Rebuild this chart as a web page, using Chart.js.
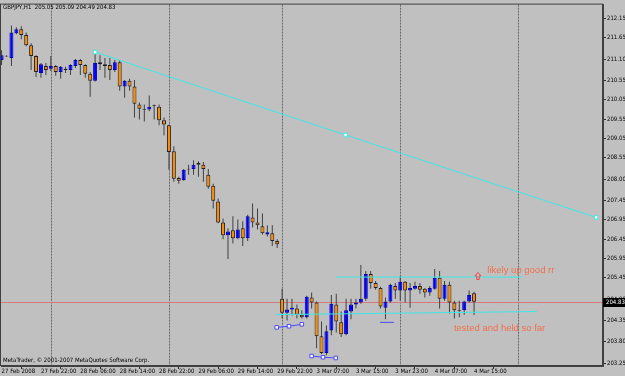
<!DOCTYPE html>
<html><head><meta charset="utf-8">
<script src="https://cdn.jsdelivr.net/npm/chart.js@4/dist/chart.umd.min.js"></script>
<style>html,body{margin:0;padding:0;background:#c0c0c0;}canvas{display:block;}</style>
</head><body>
<canvas id="c" width="625" height="376"></canvas>
<script>
// ---------- data ----------
const symbolTitle = 'GBPJPY,H1  205.05 205.09 204.49 204.83';
const copyright = 'MetaTrader, \u00A9 2001-2007 MetaQuotes Software Corp.';
const barTimes = [
 '27 Feb 14:00','27 Feb 15:00','27 Feb 16:00','27 Feb 17:00','27 Feb 18:00','27 Feb 19:00','27 Feb 20:00','27 Feb 21:00','27 Feb 22:00','27 Feb 23:00',
 '28 Feb 00:00','28 Feb 01:00','28 Feb 02:00','28 Feb 03:00','28 Feb 04:00','28 Feb 05:00','28 Feb 06:00','28 Feb 07:00','28 Feb 08:00','28 Feb 09:00',
 '28 Feb 10:00','28 Feb 11:00','28 Feb 12:00','28 Feb 13:00','28 Feb 14:00','28 Feb 15:00','28 Feb 16:00','28 Feb 17:00','28 Feb 18:00','28 Feb 19:00',
 '28 Feb 20:00','28 Feb 21:00','28 Feb 22:00','28 Feb 23:00',
 '29 Feb 00:00','29 Feb 01:00','29 Feb 02:00','29 Feb 03:00','29 Feb 04:00','29 Feb 05:00','29 Feb 06:00','29 Feb 07:00','29 Feb 08:00','29 Feb 09:00',
 '29 Feb 10:00','29 Feb 11:00','29 Feb 12:00','29 Feb 13:00','29 Feb 14:00','29 Feb 15:00','29 Feb 16:00','29 Feb 17:00','29 Feb 18:00','29 Feb 19:00',
 '29 Feb 20:00','29 Feb 21:00','29 Feb 22:00',
 '3 Mar 00:00','3 Mar 01:00','3 Mar 02:00','3 Mar 03:00','3 Mar 04:00','3 Mar 05:00','3 Mar 06:00','3 Mar 07:00','3 Mar 08:00','3 Mar 09:00',
 '3 Mar 10:00','3 Mar 11:00','3 Mar 12:00','3 Mar 13:00','3 Mar 14:00','3 Mar 15:00','3 Mar 16:00','3 Mar 17:00','3 Mar 18:00','3 Mar 19:00',
 '3 Mar 20:00','3 Mar 21:00','3 Mar 22:00','3 Mar 23:00',
 '4 Mar 00:00','4 Mar 01:00','4 Mar 02:00','4 Mar 03:00','4 Mar 04:00','4 Mar 05:00','4 Mar 06:00','4 Mar 07:00','4 Mar 08:00','4 Mar 09:00',
 '4 Mar 10:00','4 Mar 11:00','4 Mar 12:00','4 Mar 13:00','4 Mar 14:00','4 Mar 15:00'
];
const open = [211.08,211.19,211.13,211.77,211.87,211.72,211.46,211.18,210.74,210.92,
 210.85,210.92,210.77,210.85,210.82,210.92,211.08,210.95,210.72,210.54,
 211.02,210.97,210.95,210.82,211.02,210.39,210.54,210.39,209.93,209.81,
 209.80,209.91,209.87,209.52,209.39,208.72,208.03,207.98,208.27,208.26,
 208.42,208.37,208.11,207.83,207.42,206.88,206.55,206.68,206.47,206.73,
 206.47,207.01,206.88,206.78,206.57,206.60,206.40,
 204.91,204.55,204.63,204.66,204.50,204.43,204.94,204.81,203.94,203.51,
 204.09,204.76,204.30,203.99,204.58,204.76,204.81,204.91,205.55,205.32,
 205.19,204.68,204.84,205.24,205.12,205.35,205.12,205.17,205.24,205.17,
 205.07,205.17,205.45,204.91,205.27,204.81,204.62,204.61,204.84,205.05];
const high = [211.33,211.20,211.97,211.92,211.95,211.79,211.51,211.20,211.00,211.00,
 211.18,210.95,210.92,210.90,210.97,211.10,211.10,210.97,210.77,211.28,
 211.20,211.13,211.13,211.08,211.08,210.56,210.59,210.56,209.98,209.93,
 210.16,209.93,209.93,209.59,209.41,208.85,208.06,208.26,208.37,208.49,
 208.46,208.44,208.26,207.88,207.50,206.98,206.73,207.04,206.96,206.91,
 207.08,207.37,207.24,207.11,206.81,206.81,206.45,
 205.17,204.91,204.91,204.76,204.61,204.99,205.07,204.84,204.32,204.22,
 205.01,205.04,204.58,204.91,204.91,204.91,205.78,205.63,205.63,205.37,
 205.22,204.94,205.30,205.32,205.50,205.37,205.32,205.35,205.32,205.19,
 205.24,205.68,205.63,205.37,205.35,204.86,204.86,204.86,205.12,205.09];
const low = [210.95,211.16,210.92,211.74,211.61,211.43,210.82,210.64,210.62,210.69,
 210.79,210.67,210.59,210.74,210.69,210.87,210.69,210.62,210.13,210.52,
 210.82,210.62,210.56,210.77,210.28,210.10,210.28,209.59,209.54,209.49,
 209.75,209.54,209.39,209.13,208.24,207.93,207.88,207.96,208.11,208.11,
 208.06,207.93,207.75,207.24,206.86,206.45,205.94,206.34,206.45,206.27,
 206.40,206.75,206.70,206.57,206.52,206.27,206.22,
 204.40,204.35,204.48,204.40,204.40,204.40,204.66,203.63,203.48,203.45,
 203.97,204.04,203.92,203.97,204.38,204.66,204.78,204.86,205.17,205.14,
 204.66,204.38,204.81,204.91,204.86,204.81,204.68,205.14,205.04,204.94,
 204.99,205.14,204.66,204.86,204.53,204.40,204.43,204.50,204.81,204.49];
const close = [211.20,211.17,211.79,211.87,211.72,211.46,211.18,210.77,210.97,210.82,
 210.92,210.77,210.90,210.82,210.95,211.08,210.95,210.72,210.54,211.00,
 210.97,210.92,210.82,211.02,210.39,210.54,210.39,209.95,209.82,209.79,
 209.87,209.89,209.52,209.41,208.70,208.01,207.96,208.24,208.25,208.37,
 208.37,208.26,207.80,207.44,206.88,206.55,206.65,206.47,206.70,206.47,
 207.04,206.88,206.81,206.60,206.63,206.40,206.32,
 204.55,204.63,204.68,204.50,204.43,204.96,204.81,203.94,203.51,204.07,
 204.78,204.32,203.99,204.61,204.76,204.81,204.91,205.55,205.32,205.19,
 204.71,204.84,205.27,205.12,205.35,205.12,205.19,205.24,205.14,205.07,
 205.19,205.45,204.91,205.27,204.81,204.61,204.60,204.84,205.01,204.83];

const xTickIndex = [0,8,16,24,32,40,48,56,64,72,80,88,96];
const xTickLabels = ['27 Feb 2008','27 Feb 22:00','28 Feb 06:00','28 Feb 14:00','28 Feb 22:00','29 Feb 06:00',
 '29 Feb 14:00','29 Feb 22:00','3 Mar 07:00','3 Mar 15:00','3 Mar 23:00','4 Mar 07:00','4 Mar 15:00'];
const yTickValues = [212.15,211.65,211.10,210.55,210.05,209.55,209.05,208.55,208.00,207.45,206.95,206.45,205.95,205.45,204.90,204.35,203.80,203.25];
const daySeparators = [10,34,57,81,105];

// drawn objects (bar index, price)
const trendX = [19,69.9,120.8];
const trendY = [211.28,209.14,207.01];
const resistX = [67.9,105.8];
const resistY = [205.47,205.47];
const supportX = [55.7,108.8];
const supportY = [204.50,204.58];
const lowLine1X = [55.9,58.4,61.0];
const lowLine1Y = [204.17,204.20,204.25];
const lowLine2X = [63.0,65.3,67.9];
const lowLine2Y = [203.43,203.40,203.38];
const hLineX = [76.9,79.7];
const hLineY = [204.30,204.30];
const noteText = ['likely up good rr','tested and held so far'];
const noteX = [98.7,91.9];
const noteY = [205.65,204.15];
const arrowX = 96.8, arrowY = 205.50;

// view range
const X_MIN = -0.12, X_MAX = 122.2;
const Y_MIN = 203.173, Y_MAX = 212.508;

// ---------- fonts ----------
function hasFont(name){
  const g=document.createElement('canvas').getContext('2d');
  const t='mmmmmmmmmmlli1WW 27 Feb 2008';
  g.font='20px monospace'; const a=g.measureText(t).width;
  g.font="20px '"+name+"', monospace"; const b=g.measureText(t).width;
  g.font='20px serif'; const c=g.measureText(t).width;
  g.font="20px '"+name+"', serif"; const d=g.measureText(t).width;
  return a!==b || c!==d;
}
let smallFamily = "'Liberation Sans', Arial, sans-serif", smallSize = 6;
if (hasFont('Liberation Sans Narrow')) { smallFamily = "'Liberation Sans Narrow', sans-serif"; smallSize = 7; }
else if (hasFont('DejaVu Sans Condensed')) { smallFamily = "'DejaVu Sans Condensed', sans-serif"; smallSize = 6; }
const SMALL_FONT = {family: smallFamily, size: smallSize};
const smallFontCss = smallSize + 'px ' + smallFamily;

// ---------- styles ----------
const BG = '#c0c0c0';
const UP = '#0000ff', DOWN = '#ff8c00';

const pts = (xs, ys) => xs.map((x,i)=>({x, y: ys[i]}));
const idx = open.map((_,i)=>i);

const bodies = {
  type:'bar', order:2, grouped:false,
  data: idx.map(i=>({x:i, y:[open[i], close[i]]})),
  backgroundColor: idx.map(i=> close[i]>=open[i] ? UP : DOWN),
  borderColor: idx.map(i=> close[i]>=open[i] ? '#0000b0' : '#202020'),
  borderWidth: 1, borderSkipped:false, barThickness:4, inflateAmount:0
};
const wicks = {
  type:'bar', order:3, grouped:false,
  data: idx.map(i=>({x:i, y:[low[i], high[i]]})),
  backgroundColor:'#404040', borderWidth:0, barThickness:1, inflateAmount:0
};
const lineDs = (xs, ys, color, radius) => ({
  type:'line', order:1, data: pts(xs, ys), borderColor: color, borderWidth:1,
  pointStyle:'rect', pointRadius: radius, pointBorderColor: color, pointBorderWidth:1,
  pointBackgroundColor:'#ffffff', fill:false, tension:0
});

const chromePlugin = {
  id:'chrome',
  beforeDraw(c){
    const g=c.ctx; g.save(); g.fillStyle=BG; g.fillRect(0,0,c.width,c.height); g.restore();
  },
  beforeDatasetsDraw(c){
    const g=c.ctx, a=c.chartArea, xs=c.scales.x, ys=c.scales.y;
    g.save();
    g.strokeStyle='#6a6a6a'; g.lineWidth=1; g.setLineDash([2,1]);
    daySeparators.forEach(d=>{
      const x=Math.round(xs.getPixelForValue(d))+0.5;
      g.beginPath(); g.moveTo(x,a.top); g.lineTo(x,a.bottom); g.stroke();
    });
    g.setLineDash([]);
    const yb=Math.round(ys.getPixelForValue(close[close.length-1]))+0.5;
    g.strokeStyle='#d47a7a';
    g.beginPath(); g.moveTo(a.left,yb); g.lineTo(a.right,yb); g.stroke();
    g.restore();
  },
  afterDraw(c){
    const g=c.ctx, a=c.chartArea, xs=c.scales.x, ys=c.scales.y;
    g.save();
    g.strokeStyle='#404040'; g.lineWidth=1;
    g.strokeRect(a.left-0.5, a.top-0.5, a.right-a.left, a.bottom-a.top);
    g.fillStyle='#000'; g.font=smallFontCss; g.textBaseline='middle'; g.textAlign='left';
    g.fillText(symbolTitle, 3, 7);
    g.fillText(copyright, 3, 360);
    g.fillStyle='#f0704c'; g.font="9.5px 'Liberation Sans',Arial,sans-serif";
    noteText.forEach((t,i)=> g.fillText(t, xs.getPixelForValue(noteX[i]), ys.getPixelForValue(noteY[i])));
    const ax=xs.getPixelForValue(arrowX), ay=ys.getPixelForValue(arrowY);
    g.strokeStyle='#ff3c3c'; g.lineWidth=1;
    g.beginPath();
    g.moveTo(ax, ay-3.5); g.lineTo(ax+3, ay); g.lineTo(ax+1.2, ay); g.lineTo(ax+1.2, ay+3.5);
    g.lineTo(ax-1.2, ay+3.5); g.lineTo(ax-1.2, ay); g.lineTo(ax-3, ay); g.closePath(); g.stroke();
    const last=close[close.length-1];
    const yp=Math.round(ys.getPixelForValue(last));
    g.fillStyle='#000'; g.fillRect(a.right, yp-4, c.width-a.right, 9);
    g.fillStyle='#fff'; g.font=smallFontCss; g.textBaseline='middle';
    g.fillText(last.toFixed(2), a.right+3, yp+0.5);
    g.restore();
  }
};

new Chart(document.getElementById('c'), {
  type:'bar',
  data:{ datasets:[
    lineDs(trendX, trendY, '#3ee8e8', 2.5),
    lineDs(resistX, resistY, '#3ee8e8', 0),
    lineDs(supportX, supportY, '#3ee8e8', 0),
    lineDs(lowLine1X, lowLine1Y, '#4a4aff', 2.5),
    lineDs(lowLine2X, lowLine2Y, '#4a4aff', 2.5),
    lineDs(hLineX, hLineY, '#4a4aff', 0),
    bodies, wicks
  ]},
  options:{
    responsive:false, animation:false, events:[],
    layout:{autoPadding:false, padding:{left:1, top:1, right:0, bottom:0}},
    plugins:{legend:{display:false}, tooltip:{enabled:false}, title:{display:false}},
    scales:{
      x:{ type:'linear', min:X_MIN, max:X_MAX, offset:false,
          grid:{display:true, drawOnChartArea:false, drawTicks:true, tickLength:3, color:'#303030'},
          border:{display:true, color:'#404040'},
          ticks:{autoSkip:false, maxRotation:0, minRotation:0, align:'start', padding:-1, color:'#000', font:SMALL_FONT,
                 callback:(v)=>{ const k=xTickIndex.indexOf(v); return k>=0 ? xTickLabels[k] : ''; }},
          afterBuildTicks:(ax)=>{ ax.ticks = xTickIndex.map(v=>({value:v})); },
          afterFit:(s)=>{ s.height = 10; } },
      y:{ type:'linear', position:'right', min:Y_MIN, max:Y_MAX,
          grid:{display:true, drawOnChartArea:false, drawTicks:true, tickLength:3, color:'#303030'},
          border:{display:true, color:'#404040'},
          ticks:{color:'#000', font:SMALL_FONT, padding:1, callback:(v)=>Number(v).toFixed(2)},
          afterBuildTicks:(ax)=>{ ax.ticks = yTickValues.map(v=>({value:v})); },
          afterFit:(s)=>{ s.width = 22; } }
    }
  },
  plugins:[chromePlugin]
});
</script>
</body></html>
